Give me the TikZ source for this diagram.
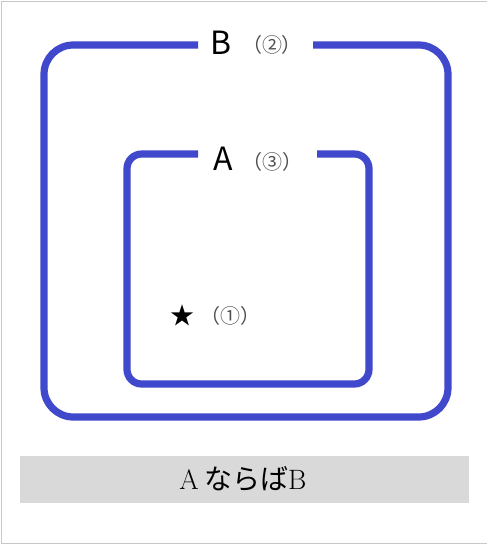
\documentclass[tikz,border=0pt]{standalone}
\usepackage{fontspec}
\usepackage{tikz}
\newfontfamily\jpfont{Noto Sans CJK JP}
\definecolor{setblue}{RGB}{64,72,204}
\definecolor{bandgray}{RGB}{217,217,217}
\definecolor{framegray}{RGB}{200,200,200}
\definecolor{markgray}{RGB}{80,80,80}
\begin{document}
\begin{tikzpicture}[x=.75pt,y=-.75pt,line width=.75pt,
  setline/.style={draw=setblue,line width=5.4pt},
  setname/.style={font=\jpfont\fontsize{24}{28}\selectfont},
  setmark/.style={font=\jpfont\fontsize{15}{18}\selectfont,text=markgray}]
\useasboundingbox (0,0) rectangle (488,544);
\draw[framegray] (487,1)--(1,1)--(1,543)--(487,543);
% outer set B
\draw[setline,rounded corners=22pt] (198,45)--(44,45)--(44,417)--(448,417)--(448,45)--(313,45);
\node[setname] (nameB) at (221,43) {B};
\node[setmark] (markB) at (272,45) {（②）};
% inner set A
\draw[setline,rounded corners=11pt] (198,154)--(127,154)--(127,384)--(369,384)--(369,154)--(317,154);
\node[setname] (nameA) at (223,159) {A};
\node[setmark] (markA) at (273,162) {（③）};
% element
\node[font=\jpfont\fontsize{18}{20}\selectfont] (star) at (183,315) {★};
\node[setmark] (markS) at (230,316) {（①）};
% caption
\fill[bandgray] (20,456) rectangle (469,503);
\node[font=\fontsize{21}{24}\selectfont] (caption) at (243,479) {A\hspace{4pt}{\jpfont ならば}B};
\end{tikzpicture}
\end{document}
